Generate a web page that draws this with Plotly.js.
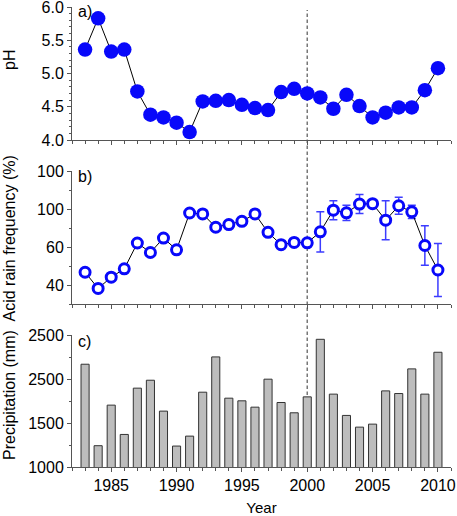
<!DOCTYPE html>
<html>
<head>
<meta charset="utf-8">
<script src="https://cdn.plot.ly/plotly-3.0.1.min.js"></script>
<style>html,body{margin:0;padding:0;background:#fff;}#chart{width:457px;height:516px;}</style>
</head>
<body>
<div id="chart"></div>
<script>
// ---- data ----
var years = [1983,1984,1985,1986,1987,1988,1989,1990,1991,1992,1993,1994,1995,1996,1997,1998,1999,2000,2001,2002,2003,2004,2005,2006,2007,2008,2009,2010];
var ph = [5.36,5.83,5.33,5.36,4.73,4.38,4.34,4.26,4.12,4.58,4.59,4.60,4.53,4.48,4.45,4.72,4.77,4.70,4.64,4.47,4.68,4.51,4.34,4.41,4.49,4.49,4.75,5.08];
var acidFreq = [46.7,38.2,44.1,48.5,62.1,57.1,64.7,58.5,77.9,77.4,70.4,71.8,73.5,77.4,67.7,61.2,62.4,62.2,68.0,79.4,78.0,82.6,82.8,74.1,81.7,78.5,60.8,47.9];
var acidFreqErr = [null,null,null,null,null,null,null,null,null,null,null,null,null,null,null,null,null,null,10.6,5.0,4.0,5.0,2.0,10.3,4.5,3.5,10.4,13.9];
var precip = [2168,1242,1703,1370,1896,1986,1635,1238,1351,1850,2251,1782,1752,1680,1998,1733,1616,1797,2451,1828,1586,1453,1487,1865,1835,2115,1828,2304];

var yearTicks = [1985,1990,1995,2000,2005,2010];
var phTicks = [4.0,4.5,5.0,5.5,6.0];
var freqTickVals = [40,60,80,100];
var freqTickText = ['40','60','100','100'];
var precipTickVals = [1000,1500,2000,2500];
var precipTickText = ['1000','1500','2500','2500'];
var markYear = 2000;

// ---- styling ----
var FONT = 'Liberation Sans, Arial, Helvetica, sans-serif';
var AX = '#555';
var BLUE = 'rgb(8,8,250)';

function xAxis(anchor, labels) {
  return {
    anchor: anchor, domain: [0, 1], range: [1982, 2011],
    tickmode: 'array', tickvals: yearTicks, showticklabels: labels,
    ticks: 'outside', ticklen: 4, tickwidth: 1, tickcolor: AX,
    minor: {tick0: 1982, dtick: 1, ticks: 'outside', ticklen: 2.5, tickwidth: 1, tickcolor: AX},
    showline: true, linecolor: AX, linewidth: 1,
    showgrid: false, zeroline: false, ticklabeloverflow: 'allow',
    tickfont: {family: FONT, size: 16, color: '#000'}
  };
}
function yAxis(domain, range, extra) {
  var a = {
    domain: domain, range: range,
    ticks: 'outside', ticklen: 4, tickwidth: 1, tickcolor: AX,
    showline: true, linecolor: AX, linewidth: 1,
    showgrid: false, zeroline: false, ticklabeloverflow: 'allow',
    tickfont: {family: FONT, size: 16, color: '#000'}
  };
  for (var k in extra) a[k] = extra[k];
  return a;
}

var traces = [
  {
    x: years, y: ph, xaxis: 'x', yaxis: 'y', type: 'scatter', mode: 'lines+markers',
    line: {color: '#000', width: 1},
    marker: {color: BLUE, size: 14.5, line: {width: 0}},
    cliponaxis: false, showlegend: false, hoverinfo: 'x+y'
  },
  {
    x: years, y: acidFreq, xaxis: 'x2', yaxis: 'y2', type: 'scatter', mode: 'lines+markers',
    line: {color: '#000', width: 1},
    marker: {color: '#fff', size: 10, line: {color: BLUE, width: 3}},
    error_y: {type: 'data', array: acidFreqErr, visible: true, color: 'rgb(60,60,255)', thickness: 1.5, width: 4},
    cliponaxis: false, showlegend: false, hoverinfo: 'x+y'
  },
  {
    x: years, y: precip, xaxis: 'x3', yaxis: 'y3', type: 'bar', width: 0.62,
    marker: {color: '#bdbdbd', line: {color: '#333', width: 1}},
    showlegend: false, hoverinfo: 'x+y'
  }
];

function py(px) { return (467 - px) / 460; }
function pxX(px) { return (px - 72) / 379; }

var layout = {
  width: 457, height: 516,
  margin: {l: 72, r: 6, t: 7, b: 49},
  paper_bgcolor: '#fff', plot_bgcolor: 'rgba(0,0,0,0)',
  font: {family: FONT, size: 16, color: '#000'},
  showlegend: false,
  xaxis: xAxis('y', false),
  xaxis2: xAxis('y2', false),
  xaxis3: (function () {
    var a = xAxis('y3', true);
    a.title = {text: 'Year', font: {family: FONT, size: 15, color: '#000'}, standoff: 10};
    return a;
  })(),
  yaxis: yAxis([py(140), 1], [4, 6], {
    tickmode: 'array', tickvals: phTicks, tickformat: '.1f',
    minor: {tick0: 4, dtick: 0.1, ticks: 'outside', ticklen: 2.5, tickwidth: 1, tickcolor: AX}
  }),
  yaxis2: yAxis([py(304), py(171)], [30, 100], {
    tickmode: 'array', tickvals: freqTickVals, ticktext: freqTickText,
    minor: {tick0: 30, dtick: 10, ticks: 'outside', ticklen: 2.5, tickwidth: 1, tickcolor: AX}
  }),
  yaxis3: yAxis([0, py(335)], [1000, 2500], {
    tickmode: 'array', tickvals: precipTickVals, ticktext: precipTickText,
    minor: {tick0: 1000, dtick: 250, ticks: 'outside', ticklen: 2.5, tickwidth: 1, tickcolor: AX}
  }),
  shapes: [{
    type: 'line', layer: 'below', xref: 'x', yref: 'paper',
    x0: markYear, x1: markYear, y0: 0, y1: py(10),
    line: {color: '#777', width: 1.5, dash: '3.5px,2.5px'}
  }],
  annotations: [
    {text: 'a)', xref: 'paper', yref: 'paper', x: pxX(75.5), y: py(11.5), xanchor: 'left', yanchor: 'middle', showarrow: false, font: {family: FONT, size: 16, color: '#000'}},
    {text: 'b)', xref: 'paper', yref: 'paper', x: pxX(75.5), y: py(176), xanchor: 'left', yanchor: 'middle', showarrow: false, font: {family: FONT, size: 16, color: '#000'}},
    {text: 'c)', xref: 'paper', yref: 'paper', x: pxX(75.5), y: py(341), xanchor: 'left', yanchor: 'middle', showarrow: false, font: {family: FONT, size: 16, color: '#000'}},
    {text: 'pH', xref: 'paper', yref: 'paper', x: pxX(9), y: py(60), xanchor: 'center', yanchor: 'middle', textangle: -90, showarrow: false, font: {family: FONT, size: 16, color: '#000'}},
    {text: 'Acid rain frequency (%)', xref: 'paper', yref: 'paper', x: pxX(9), y: py(238.5), xanchor: 'center', yanchor: 'middle', textangle: -90, showarrow: false, font: {family: FONT, size: 16, color: '#000'}},
    {text: 'Precipitation (mm)', xref: 'paper', yref: 'paper', x: pxX(9), y: py(395), xanchor: 'center', yanchor: 'middle', textangle: -90, showarrow: false, font: {family: FONT, size: 16, color: '#000'}}
  ]
};

Plotly.newPlot('chart', traces, layout, {staticPlot: true, displayModeBar: false});
</script>
</body>
</html>
